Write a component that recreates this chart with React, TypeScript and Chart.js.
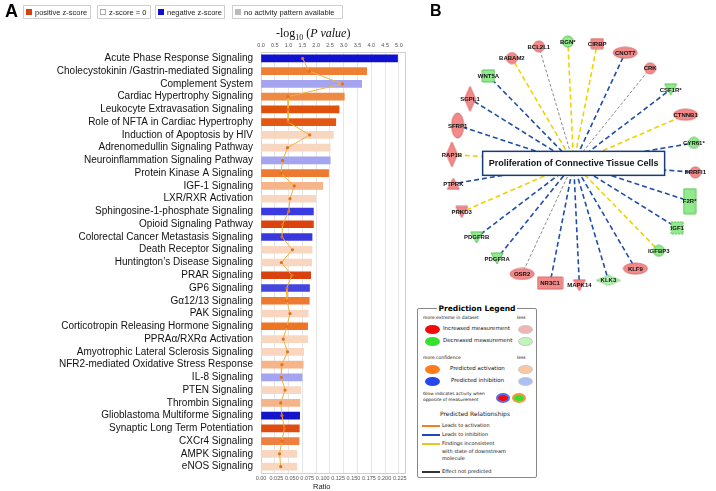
import React, { useEffect, useRef } from 'react';
import { Chart, registerables } from 'chart.js';
Chart.register(...registerables);

// ---------- Panel A data ----------
const pathways = [
  'Acute Phase Response Signaling',
  'Cholecystokinin /Gastrin-mediated Signaling',
  'Complement System',
  'Cardiac Hypertrophy Signaling',
  'Leukocyte Extravasation Signaling',
  'Role of NFTA in Cardiac Hypertrophy',
  'Induction of Apoptosis by HIV',
  'Adrenomedullin Signaling Pathway',
  'Neuroinflammation Signaling Pathway',
  'Protein Kinase A Signaling',
  'IGF-1 Signaling',
  'LXR/RXR Activation',
  'Sphingosine-1-phosphate Signaling',
  'Opioid Signaling Pathway',
  'Colorectal Cancer Metastasis Signaling',
  'Death Receptor Signaling',
  'Huntington\u2019s Disease Signaling',
  'PRAR Signaling',
  'GP6 Signaling',
  'G\u03b112/13 Signaling',
  'PAK Signaling',
  'Corticotropin Releasing Hormone Signaling',
  'PPRA\u03b1/RXR\u03b1 Activation',
  'Amyotrophic Lateral Sclerosis Signaling',
  'NFR2-mediated Oxidative Stress Response',
  'IL-8 Signaling',
  'PTEN Signaling',
  'Thrombin Signaling',
  'Glioblastoma Multiforme Signaling',
  'Synaptic Long Term Potentiation',
  'CXCr4 Signaling',
  'AMPK Signaling',
  'eNOS Signaling',
];

const negLogP = [
  4.95, 3.83, 3.65, 3.02, 2.83, 2.71, 2.62, 2.51, 2.51, 2.45, 2.24,
  1.98, 1.90, 1.90, 1.85, 1.85, 1.84, 1.80, 1.76, 1.75, 1.71, 1.69,
  1.69, 1.55, 1.53, 1.49, 1.44, 1.41, 1.40, 1.39, 1.38, 1.30, 1.30,
];

const ratios = [
  0.0675, 0.078, 0.132, 0.044, 0.044, 0.044, 0.079, 0.043, 0.035, 0.032, 0.054,
  0.047, 0.045, 0.035, 0.034, 0.051, 0.033, 0.050, 0.042, 0.042, 0.047, 0.042,
  0.036, 0.043, 0.034, 0.033, 0.039, 0.032, 0.034, 0.038, 0.034, 0.030, 0.032,
];

const barColors = [
  '#1010d0', '#ee8035', '#a4a4f0', '#ef8a45', '#e0520c', '#e25812', '#f9d6bf', '#f9d6bf', '#a4a4f0', '#ec7a30', '#f5b48a',
  '#f9d6bf', '#3a3ae0', '#dc420e', '#3838dd', '#f9d6bf', '#f9d6bf', '#d9420f', '#4545e0', '#ed7a2e', '#f9d6bf', '#ee7525',
  '#f9d6bf', '#f9d6bf', '#f5b48a', '#a4a4f0', '#f9d6bf', '#f5b48a', '#1414c8', '#de4c12', '#ee8040', '#f9d6bf', '#f9d6bf',
];

const pTicksMax = 5.0;
const ratioTicksMax = 0.225;

// ---------- Panel B data ----------
const centerLabel = 'Proliferation of Connective Tissue Cells';
const nodeNames = ['BABAM2', 'BCL2L1', 'BGN*', 'CIRBP', 'CNOT7', 'CRK', 'CSF1R*', 'CTNNB1', 'CYR61*', 'ERRFI1', 'F2R*', 'IGF1', 'IGFBP3', 'KLF9', 'KLK3', 'MAPK14', 'NR3C1', 'OSR2', 'PDGFRA', 'PDGFRB', 'PRKD3', 'PTPRK', 'RAP1B', 'SFRP1', 'SGPL1', 'WNT5A'];
const nodeShapes = ['circle', 'circle', 'circle', 'rectSmall', 'ellipseH', 'circle', 'triDown', 'ellipseH', 'circle', 'circle', 'rectV', 'square', 'circle', 'ellipseH', 'diamondH', 'triDown', 'rectH', 'ellipseH', 'triDown', 'triDown', 'triDown', 'triUp', 'diamondV', 'ellipseV', 'diamondV', 'square'];
const nodeMeasure = ['up', 'up', 'down', 'up', 'up', 'up', 'down', 'up', 'down', 'up', 'down', 'down', 'down', 'up', 'down', 'up', 'up', 'up', 'down', 'down', 'up', 'up', 'up', 'up', 'up', 'down'];
const edgeTypes = ['inconsistent', 'none', 'inconsistent', 'inconsistent', 'inhibition', 'none', 'inhibition', 'inconsistent', 'inhibition', 'inhibition', 'inhibition', 'inhibition', 'inconsistent', 'inhibition', 'inhibition', 'inhibition', 'inhibition', 'none', 'inhibition', 'inhibition', 'inconsistent', 'inhibition', 'inconsistent', 'inhibition', 'inhibition', 'inhibition'];
const layoutStartAngle = 120.4; // degrees, first node, clockwise order
const layoutRadius = 128;

const SANS = '"Liberation Sans", Arial, sans-serif';
const VERD = '"DejaVu Sans", Verdana, sans-serif';

const shapeSizes: any = {
  circle: [11, 11], ellipseH: [24, 11], ellipseV: [12, 25], square: [12, 12], rectSmall: [12, 10],
  rectH: [25, 12], rectV: [12, 25], triDown: [12, 11], triUp: [12, 11], diamondV: [11, 25], diamondH: [24, 10],
};
const measureStyle: any = {
  up: { fill: '#f28a8a', stroke: '#dc6a6a' },
  down: { fill: '#92ea8e', stroke: '#5cc257' },
};
const edgeStyle: any = {
  inhibition: { color: '#1f4fa6', width: 1.6, dash: [5, 3] },
  inconsistent: { color: '#ecd404', width: 1.6, dash: [5, 3] },
  none: { color: '#8a8a8a', width: 1, dash: [3, 2] },
};

function makeShape(kind: string, measure: string, dashed: boolean) {
  const [w, h] = shapeSizes[kind];
  const st = measureStyle[measure];
  const c = document.createElement('canvas');
  c.width = w + 2; c.height = h + 2;
  const g = c.getContext('2d')!;
  const cx = (w + 2) / 2, cy = (h + 2) / 2;
  g.fillStyle = kind === 'diamondH' ? '#b6f2b2' : st.fill;
  g.strokeStyle = st.stroke;
  g.lineWidth = 1;
  g.beginPath();
  if (kind === 'circle' || kind.startsWith('ellipse')) {
    g.ellipse(cx, cy, w / 2, h / 2, 0, 0, Math.PI * 2);
  } else if (kind === 'square' || kind.startsWith('rect')) {
    g.rect(1, 1, w, h);
  } else if (kind === 'triDown') {
    g.moveTo(1, 1); g.lineTo(w + 1, 1); g.lineTo(cx, h + 1); g.closePath();
  } else if (kind === 'triUp') {
    g.moveTo(cx, 1); g.lineTo(w + 1, h + 1); g.lineTo(1, h + 1); g.closePath();
  } else {
    g.moveTo(cx, 1); g.lineTo(w + 1, cy); g.lineTo(cx, h + 1); g.lineTo(1, cy); g.closePath();
  }
  g.fill();
  if (dashed) g.setLineDash([2, 1]);
  g.stroke();
  return c;
}

const framePlugin = {
  id: 'frameA',
  beforeDatasetsDraw(chart: any) {
    const { ctx, chartArea: a } = chart;
    ctx.save();
    ctx.strokeStyle = '#d2d2d2';
    ctx.lineWidth = 1;
    ctx.strokeRect(Math.round(a.left) + 0.5, Math.round(a.top) + 0.5, Math.round(a.right - a.left), Math.round(a.bottom - a.top));
    ctx.restore();
  },
};

const networkPlugin = {
  id: 'networkLabels',
  afterDatasetsDraw(chart: any) {
    const ctx = chart.ctx;
    const meta = chart.getDatasetMeta(0);
    ctx.save();
    ctx.font = 'bold 6px ' + SANS;
    ctx.fillStyle = '#111';
    ctx.textAlign = 'center';
    ctx.textBaseline = 'middle';
    meta.data.forEach((pt: any, i: number) => {
      ctx.fillText(nodeNames[i], pt.x, pt.y + 0.5);
    });
    const cx = chart.scales.x.getPixelForValue(0);
    const cy = chart.scales.y.getPixelForValue(0);
    ctx.fillStyle = '#ffffff';
    ctx.fillRect(cx - 91, cy - 12, 182, 24);
    ctx.strokeStyle = '#1b3b78';
    ctx.lineWidth = 1.5;
    ctx.strokeRect(cx - 91, cy - 12, 182, 24);
    ctx.fillStyle = '#111';
    ctx.font = 'bold 9px ' + SANS;
    ctx.fillText(centerLabel, cx, cy + 0.5);
    ctx.restore();
  },
};

const Ell = ({ x, y, w = 15, h = 9, fill, border }: any) => (
  <div style={{ position: 'absolute', left: x - w / 2, top: y - h / 2, width: w, height: h, borderRadius: '50%', background: fill, boxSizing: 'border-box', border: border || 'none' }} />
);
const T = ({ x, y, size, children, bold, family }: any) => (
  <div style={{ position: 'absolute', left: x, top: y, fontSize: size, lineHeight: 1, whiteSpace: 'nowrap', fontFamily: family || VERD, fontWeight: bold ? 'bold' : 'normal', color: '#111' }}>{children}</div>
);
const Ln = ({ y, color }: any) => (
  <div style={{ position: 'absolute', left: 4, top: y - 1, width: 18, height: 2, background: color }} />
);

const legendA = [
  { label: 'positive z-score', color: '#d9420f', left: 23, width: 68, border: 'none' },
  { label: 'z-score = 0', color: '#ffffff', left: 97, width: 54, border: '1px solid #aaa' },
  { label: 'negative z-score', color: '#1010d0', left: 155, width: 70, border: 'none' },
  { label: 'no activity pattern available', color: '#bbbbbb', left: 232, width: 111, border: 'none' },
];

export default function App() {
  const aRef = useRef<HTMLCanvasElement>(null);
  const bRef = useRef<HTMLCanvasElement>(null);

  useEffect(() => {
    const chartA = new Chart(aRef.current as HTMLCanvasElement, {
      type: 'bar',
      data: {
        labels: pathways,
        datasets: [
          {
            type: 'line', label: 'Ratio', data: ratios, xAxisID: 'xRatio', yAxisID: 'y', indexAxis: 'y',
            borderColor: '#f3b13c', borderWidth: 1, pointRadius: 1.6, pointBackgroundColor: '#e2701c',
            pointBorderWidth: 0, order: 0, clip: false, tension: 0, fill: false,
          } as any,
          {
            type: 'bar', label: '-log10(p)', data: negLogP, xAxisID: 'xP', yAxisID: 'y', indexAxis: 'y',
            backgroundColor: barColors, barThickness: 7, order: 1,
          } as any,
        ],
      },
      options: {
        indexAxis: 'y',
        animation: false,
        responsive: false,
        events: [],
        layout: { padding: { left: 0, right: 7, top: 0, bottom: 0 } },
        plugins: { legend: { display: false }, tooltip: { enabled: false } },
        scales: {
          y: {
            type: 'category', position: 'left',
            grid: { display: false, drawTicks: false },
            border: { display: true, color: '#c4c4c4' },
            ticks: { autoSkip: false, padding: 8, color: '#111', font: { family: SANS, size: 10 } },
            afterFit: (s: any) => { s.width = 261; },
          },
          xP: {
            type: 'linear', position: 'top', min: 0, max: 5.22,
            ticks: { stepSize: 0.5, includeBounds: false, padding: 3, autoSkip: false, maxRotation: 0, minRotation: 0, color: '#555', font: { family: SANS, size: 5.5 }, callback: (v: any) => Number(v).toFixed(1) },
            afterBuildTicks: (s: any) => { s.ticks = s.ticks.filter((t: any) => t.value <= pTicksMax + 1e-6); },
            afterFit: (s: any) => { s.height = 52; },
            grid: { color: '#e6e6e6', drawTicks: false },
            border: { display: false },
          },
          xRatio: {
            type: 'linear', position: 'bottom', min: 0, max: 0.2335,
            ticks: { stepSize: 0.025, includeBounds: false, padding: 2, autoSkip: false, maxRotation: 0, minRotation: 0, color: '#555', font: { family: SANS, size: 5.5 }, callback: (v: any) => (Number(v) === 0 ? '0.00' : Number(v).toFixed(3)) },
            afterBuildTicks: (s: any) => { s.ticks = s.ticks.filter((t: any) => t.value <= ratioTicksMax + 1e-6); },
            afterFit: (s: any) => { s.height = 18; },
            grid: { display: false, drawTicks: false },
            border: { display: false },
          },
        },
      } as any,
      plugins: [framePlugin],
    });

    const n = nodeNames.length;
    const step = 360 / n;
    const nodePts = nodeNames.map((_, i) => {
      const a = ((layoutStartAngle - i * step) * Math.PI) / 180;
      return { x: layoutRadius * Math.cos(a), y: layoutRadius * Math.sin(a) };
    });
    const nodeStyles = nodeNames.map((name, i) => makeShape(nodeShapes[i], nodeMeasure[i], name === 'IGF1' || name === 'KLK3'));

    const edgeSets = nodePts.map((p, i) => {
      const es = edgeStyle[edgeTypes[i]];
      return {
        label: 'edge-' + nodeNames[i],
        data: [{ x: 0, y: 0 }, p],
        showLine: true, borderColor: es.color, borderWidth: es.width, borderDash: es.dash,
        pointRadius: 0, fill: false, order: 1, clip: false,
      };
    });

    const chartB = new Chart(bRef.current as HTMLCanvasElement, {
      type: 'scatter',
      data: {
        datasets: [
          {
            label: 'nodes', data: nodePts, pointStyle: nodeStyles as any, pointRadius: 6,
            order: 0, clip: false, showLine: false,
          } as any,
          ...(edgeSets as any[]),
        ],
      },
      options: {
        animation: false,
        responsive: false,
        events: [],
        layout: { padding: 0 },
        plugins: { legend: { display: false }, tooltip: { enabled: false } },
        scales: {
          x: { type: 'linear', display: false, min: -158, max: 142 },
          y: { type: 'linear', display: false, min: -136, max: 164 },
        },
      } as any,
      plugins: [networkPlugin],
    });

    return () => { chartA.destroy(); chartB.destroy(); };
  }, []);

  return (
    <div style={{ position: 'fixed', left: 0, top: 0, width: 716, height: 491, background: '#fff', overflow: 'hidden', fontFamily: SANS }}>
      <canvas ref={aRef} width={412} height={491} style={{ position: 'absolute', left: 0, top: 0, width: 412, height: 491 }} />
      <canvas ref={bRef} width={300} height={300} style={{ position: 'absolute', left: 416, top: 0, width: 300, height: 300 }} />

      <div style={{ position: 'absolute', left: 5, top: 2, fontSize: 18, fontWeight: 'bold', lineHeight: 1, fontFamily: SANS }}>A</div>
      <div style={{ position: 'absolute', left: 430, top: 3, fontSize: 16, fontWeight: 'bold', lineHeight: 1, fontFamily: SANS }}>B</div>

      {legendA.map((l) => (
        <div key={l.label} style={{ position: 'absolute', left: l.left, top: 5, width: l.width, height: 14, boxSizing: 'border-box', border: '1px solid #cfcfcf', display: 'flex', alignItems: 'center', paddingLeft: 2, fontSize: 7.5, color: '#222', whiteSpace: 'nowrap', fontFamily: SANS }}>
          <span style={{ display: 'inline-block', width: 6, height: 6, boxSizing: 'border-box', background: l.color, border: l.border, marginRight: 3 }} />
          {l.label}
        </div>
      ))}

      <div style={{ position: 'absolute', left: 276, top: 27, fontSize: 12, lineHeight: '12px', fontFamily: '"Liberation Serif", "Times New Roman", serif', color: '#111', whiteSpace: 'nowrap' }}>
        -log<sub style={{ fontSize: 8 }}>10</sub> (<i>P value</i>)
      </div>
      <div style={{ position: 'absolute', left: 313, top: 483, fontSize: 7.5, lineHeight: 1, fontFamily: SANS, color: '#222' }}>Ratio</div>

      <div style={{ position: 'absolute', left: 417, top: 308, width: 120, height: 170, boxSizing: 'border-box', border: '1px solid #888', borderRadius: 2 }}>
        <div style={{ position: 'absolute', left: 0, width: 118, top: -5, height: 9, textAlign: 'center', fontSize: 7.5, lineHeight: '9px', fontWeight: 'bold', fontFamily: VERD }}>
          <span style={{ background: '#fff', padding: '0 2px' }}>Prediction Legend</span>
        </div>
        <T x={5} y={7} size={4.5}>more extreme in dataset</T>
        <T x={99} y={7} size={4.5}>less</T>
        <Ell x={14} y={20} fill="#f00a0a" />
        <T x={25} y={17} size={5.5}>Increased measurement</T>
        <Ell x={107} y={20} fill="#f2b3b3" border="1px solid #ccc" />
        <Ell x={14} y={32} fill="#35e02f" />
        <T x={25} y={29} size={5.5}>Decreased measurement</T>
        <Ell x={107} y={32} fill="#bff5b9" border="1px solid #ccc" />
        <T x={5} y={47} size={4.5}>more confidence</T>
        <T x={99} y={47} size={4.5}>less</T>
        <Ell x={14} y={60} fill="#ff7c1a" />
        <T x={32} y={57} size={5.5}>Predicted activation</T>
        <Ell x={107} y={60} fill="#fcc79c" border="1px solid #ccc" />
        <Ell x={14} y={72} fill="#2746ee" />
        <T x={33} y={69} size={5.5}>Predicted inhibition</T>
        <Ell x={107} y={72} fill="#a9bff6" border="1px solid #ccc" />
        <T x={5} y={83} size={4.3}>Glow indicates activity when</T>
        <T x={5} y={89} size={4.3}>opposite of measurement</T>
        <Ell x={85} y={89} w={14} h={10} fill="#f00a0a" border="2px solid #5a6cf0" />
        <Ell x={101} y={89} w={14} h={10} fill="#35e02f" border="2px solid #f59a3a" />
        <T x={22} y={102} size={6}>Predicted Relationships</T>
        <Ln y={117} color="#f57f20" />
        <T x={24} y={114} size={5}>Leads to activation</T>
        <Ln y={126} color="#2445c0" />
        <T x={24} y={123} size={5}>Leads to inhibition</T>
        <Ln y={135} color="#e8c820" />
        <T x={24} y={132} size={5}>Findings inconsistent</T>
        <T x={24} y={139.5} size={5}>with state of downstream</T>
        <T x={24} y={147} size={5}>molecule</T>
        <Ln y={163} color="#333" />
        <T x={24} y={160} size={5}>Effect not predicted</T>
      </div>
    </div>
  );
}
